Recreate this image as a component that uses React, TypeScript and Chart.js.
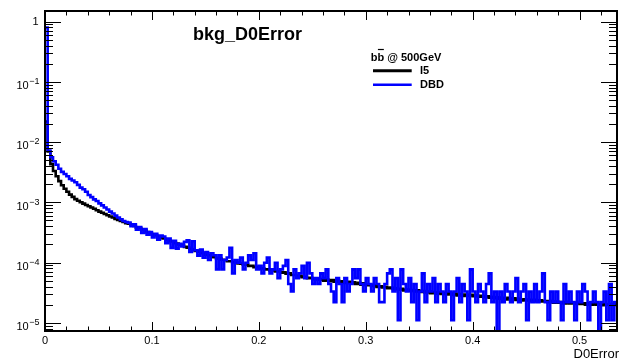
import React, { useEffect, useRef } from 'react';
import { Chart, registerables } from 'chart.js';

Chart.register(...registerables);

// ---- data ----
const BIN_WIDTH = 0.0025;
const X_MIN = 0;
const X_MAX = 0.535;
const Y_MIN = 7.3e-6;
const Y_MAX = 1.5;

const X_TICKS = [0, 0.1, 0.2, 0.3, 0.4, 0.5];
const X_TICK_LABELS = ['0', '0.1', '0.2', '0.3', '0.4', '0.5'];
const Y_TICKS = [1, 1e-1, 1e-2, 1e-3, 1e-4, 1e-5];
const Y_TICK_EXPONENTS = ['', '\u22121', '\u22122', '\u22123', '\u22124', '\u22125'];

const TITLE = 'bkg_D0Error';
const X_TITLE = 'D0Error';
const LEGEND_HEADER = ['b', 'b', ' @ 500GeV'];
const SERIES_NAMES = ['I5', 'DBD'];

const I5 = [
  0.022, 7.0e-3, 4.3e-3, 3.3e-3, 2.7e-3, 2.25e-3, 1.92e-3, 1.68e-3, 1.5e-3, 1.34e-3,
  1.23e-3, 1.13e-3, 1.06e-3, 1.0e-3, 9.5e-4, 9.0e-4, 8.6e-4, 8.2e-4, 7.8e-4, 7.4e-4,
  7.0e-4, 6.7e-4, 6.4e-4, 6.1e-4, 5.8e-4, 5.6e-4, 5.3e-4, 5.1e-4, 4.9e-4, 4.7e-4,
  4.5e-4, 4.4e-4, 4.2e-4, 4.05e-4, 3.8e-4, 3.75e-4, 3.55e-4, 3.4e-4, 3.2e-4, 3.1e-4,
  2.95e-4, 2.85e-4, 2.7e-4, 2.62e-4, 2.5e-4, 2.4e-4, 2.3e-4, 2.24e-4, 2.12e-4, 2.06e-4,
  1.97e-4, 1.92e-4, 1.82e-4, 1.77e-4, 1.68e-4, 1.64e-4, 1.56e-4, 1.52e-4, 1.45e-4, 1.41e-4,
  1.35e-4, 1.32e-4, 1.25e-4, 1.23e-4, 1.17e-4, 1.16e-4, 1.11e-4, 1.1e-4, 1.05e-4, 1.05e-4,
  1.01e-4, 1.0e-4, 9.7e-5, 9.6e-5, 9.2e-5, 9.2e-5, 8.8e-5, 8.8e-5, 8.4e-5, 8.4e-5,
  8.0e-5, 8.0e-5, 7.7e-5, 7.7e-5, 7.4e-5, 7.4e-5, 7.1e-5, 7.1e-5, 6.8e-5, 6.9e-5,
  6.5e-5, 6.6e-5, 6.2e-5, 6.2e-5, 5.9e-5, 6.0e-5, 5.7e-5, 5.8e-5, 5.5e-5, 5.6e-5,
  5.3e-5, 5.4e-5, 5.2e-5, 5.3e-5, 5.0e-5, 5.2e-5, 4.9e-5, 5.1e-5, 4.8e-5, 5.0e-5,
  4.7e-5, 4.9e-5, 4.6e-5, 4.8e-5, 4.5e-5, 4.7e-5, 4.4e-5, 4.6e-5, 4.3e-5, 4.5e-5,
  4.2e-5, 4.3e-5, 4.1e-5, 4.2e-5, 3.95e-5, 4.05e-5, 3.85e-5, 3.95e-5, 3.75e-5, 3.85e-5,
  3.65e-5, 3.75e-5, 3.55e-5, 3.65e-5, 3.45e-5, 3.55e-5, 3.4e-5, 3.5e-5, 3.3e-5, 3.45e-5,
  3.25e-5, 3.35e-5, 3.2e-5, 3.3e-5, 3.1e-5, 3.25e-5, 3.05e-5, 3.2e-5, 3.0e-5, 3.1e-5,
  2.95e-5, 3.1e-5, 2.9e-5, 3.05e-5, 2.85e-5, 3.0e-5, 2.8e-5, 2.95e-5, 2.8e-5, 2.9e-5,
  2.75e-5, 2.85e-5, 2.7e-5, 2.8e-5, 2.65e-5, 2.75e-5, 2.6e-5, 2.7e-5, 2.55e-5, 2.65e-5,
  2.5e-5, 2.6e-5, 2.45e-5, 2.6e-5, 2.45e-5, 2.55e-5, 2.4e-5, 2.5e-5, 2.35e-5, 2.45e-5,
  2.35e-5, 2.4e-5, 2.3e-5, 2.4e-5, 2.25e-5, 2.35e-5, 2.25e-5, 2.3e-5, 2.2e-5, 2.3e-5,
  2.15e-5, 2.25e-5, 2.15e-5, 2.2e-5, 2.1e-5, 2.2e-5, 2.1e-5, 2.15e-5, 2.05e-5, 2.15e-5,
  2.05e-5, 2.1e-5, 2.0e-5, 2.1e-5, 2.0e-5, 2.1e-5, 2.0e-5, 2.05e-5, 1.95e-5, 2.05e-5,
  2.0e-5, 2.05e-5, 1.95e-5, 2.05e-5,
];

const DBD = [
  0.8, 7.2e-3, 5.6e-3, 4.8e-3, 4.2e-3, 3.6e-3, 3.2e-3, 2.95e-3, 2.7e-3, 2.45e-3,
  2.3e-3, 2.15e-3, 1.95e-3, 1.75e-3, 1.65e-3, 1.5e-3, 1.32e-3, 1.22e-3, 1.12e-3, 1.05e-3,
  9.6e-4, 8.9e-4, 8.2e-4, 7.6e-4, 7.0e-4, 6.5e-4, 6.0e-4, 5.6e-4, 5.2e-4, 4.9e-4,
  4.7e-4, 4.6e-4, 4.0e-4, 4.3e-4, 3.5e-4, 3.9e-4, 3.1e-4, 3.6e-4, 2.9e-4, 3.2e-4,
  2.6e-4, 3.0e-4, 2.4e-4, 2.8e-4, 2.7e-4, 2.1e-4, 2.5e-4, 1.75e-4, 2.3e-4, 1.7e-4,
  2.05e-4, 1.85e-4, 2.2e-4, 2.35e-4, 1.5e-4, 2.25e-4, 1.6e-4, 1.3e-4, 1.65e-4, 1.2e-4,
  1.5e-4, 1.1e-4, 1.43e-4, 1.32e-4, 7.7e-5, 1.32e-4, 7.7e-5, 1.1e-4, 1.21e-4, 1.76e-4,
  6.6e-5, 1.1e-4, 9.9e-5, 1.21e-4, 7.7e-5, 9.9e-5, 1.32e-4, 1.1e-4, 1.43e-4, 7.7e-5,
  8.8e-5, 6.6e-5, 9.9e-5, 1.21e-4, 6.6e-5, 7.7e-5, 9.9e-5, 5.5e-5, 7.7e-5, 8.8e-5,
  1.1e-4, 4.4e-5, 3.3e-5, 7.7e-5, 5.5e-5, 6.6e-5, 8.8e-5, 5.5e-5, 9.9e-5, 6.6e-5,
  4.4e-5, 5.5e-5, 4.4e-5, 6.6e-5, 5.5e-5, 7.7e-5, 4.4e-5, 3.3e-5, 2.2e-5, 5.5e-5,
  4.4e-5, 2.2e-5, 5.5e-5, 3.3e-5, 4.4e-5, 7.7e-5, 5.5e-5, 7.7e-5, 4.4e-5, 3.3e-5,
  5.5e-5, 4.4e-5, 3.3e-5, 5.5e-5, 4.4e-5, 2.2e-5, 2.2e-5, 4.4e-5, 6.6e-5, 7.7e-5,
  3.3e-5, 5.5e-5, 1.1e-5, 7.7e-5, 4.4e-5, 3.3e-5, 5.5e-5, 2.2e-5, 4.4e-5, 1.1e-5,
  3.3e-5, 6.6e-5, 2.2e-5, 4.4e-5, 3.3e-5, 5.5e-5, 2.2e-5, 4.4e-5, 3.3e-5, 2.2e-5,
  4.4e-5, 3.3e-5, 1.1e-5, 3.3e-5, 5.5e-5, 2.2e-5, 4.4e-5, 3.3e-5, 1.1e-5, 7.7e-5,
  3.3e-5, 2.2e-5, 4.4e-5, 3.3e-5, 2.2e-5, 4.4e-5, 6.6e-5, 2.2e-5, 3.3e-5, 5e-6,
  3.3e-5, 2.2e-5, 4.4e-5, 3.3e-5, 2.2e-5, 3.3e-5, 5.5e-5, 2.2e-5, 3.3e-5, 4.4e-5,
  1.1e-5, 3.3e-5, 2.2e-5, 4.4e-5, 2.2e-5, 3.3e-5, 6.6e-5, 2.2e-5, 1.1e-5, 3.3e-5,
  2.2e-5, 3.3e-5, 2.2e-5, 1.1e-5, 4.4e-5, 2.2e-5, 3.3e-5, 2.2e-5, 1.1e-5, 3.3e-5,
  2.2e-5, 4.4e-5, 3.3e-5, 1.1e-5, 2.2e-5, 3.3e-5, 2.2e-5, 5e-6, 2.2e-5, 3.3e-5,
  1.1e-5, 4.4e-5, 1.1e-5, 2.2e-5,
];

const FONT = '"Liberation Sans", Arial, Helvetica, sans-serif';
const BLUE = 'rgb(0,0,255)';

function toSteps(vals: number[]) {
  const pts = vals.map((v, i) => ({ x: i * BIN_WIDTH, y: v }));
  pts.push({ x: vals.length * BIN_WIDTH, y: vals[vals.length - 1] });
  return pts;
}

const rootFrame = {
  id: 'rootFrame',
  afterDraw(chart: any) {
    const { ctx, chartArea: a } = chart;
    const xs = chart.scales.x;
    const ys = chart.scales.y;
    ctx.save();
    ctx.strokeStyle = '#000';
    ctx.lineWidth = 1;
    ctx.beginPath();
    // x ticks (bottom and top)
    for (let k = 0; k <= 30; k++) {
      const v = k * 0.02;
      if (v > X_MAX + 1e-9) break;
      const px = Math.round(xs.getPixelForValue(v)) + 0.5;
      const len = k % 5 === 0 ? 9 : 4.5;
      ctx.moveTo(px, a.bottom);
      ctx.lineTo(px, a.bottom - len);
      ctx.moveTo(px, a.top);
      ctx.lineTo(px, a.top + len);
    }
    // y ticks (left and right)
    for (let e = -6; e <= 0; e++) {
      for (let m = 1; m <= 9; m++) {
        const v = m * Math.pow(10, e);
        if (v < Y_MIN || v > Y_MAX) continue;
        const py = Math.round(ys.getPixelForValue(v)) + 0.5;
        const len = m === 1 ? 16 : 8;
        ctx.moveTo(a.left, py);
        ctx.lineTo(a.left + len, py);
        ctx.moveTo(a.right, py);
        ctx.lineTo(a.right - len, py);
      }
    }
    ctx.stroke();
    // frame
    ctx.lineWidth = 2;
    ctx.strokeRect(a.left, a.top, a.right - a.left, a.bottom - a.top);

    // x tick labels
    ctx.fillStyle = '#000';
    ctx.font = `11px ${FONT}`;
    ctx.textAlign = 'center';
    ctx.textBaseline = 'alphabetic';
    X_TICKS.forEach((v, i) => {
      ctx.fillText(X_TICK_LABELS[i], xs.getPixelForValue(v), a.bottom + 12.5);
    });
    // y tick labels
    const rightEdge = 39.5;
    Y_TICKS.forEach((v, i) => {
      const py = ys.getPixelForValue(v);
      const ex = Y_TICK_EXPONENTS[i];
      if (!ex) {
        ctx.font = `11px ${FONT}`;
        ctx.textAlign = 'right';
        ctx.fillText('1', rightEdge - 1, py + 3.8);
      } else {
        ctx.font = `9px ${FONT}`;
        const we = ctx.measureText(ex).width;
        ctx.textAlign = 'left';
        ctx.fillText(ex, rightEdge - we, py + 2.2);
        ctx.font = `11px ${FONT}`;
        ctx.textAlign = 'right';
        ctx.fillText('10', rightEdge - we - 0.5, py + 7.2);
      }
    });
    // x axis title
    ctx.font = `13px ${FONT}`;
    ctx.textAlign = 'right';
    ctx.fillText(X_TITLE, 619, 358);

    // title
    ctx.font = `bold 18px ${FONT}`;
    ctx.textAlign = 'left';
    ctx.fillText(TITLE, 193, 39.5);

    // legend
    ctx.font = `bold 11px ${FONT}`;
    let lx = 370.7;
    const hb = 60.7;
    ctx.fillText(LEGEND_HEADER[0], lx, hb);
    lx += ctx.measureText(LEGEND_HEADER[0]).width;
    const wb = ctx.measureText(LEGEND_HEADER[1]).width;
    ctx.fillText(LEGEND_HEADER[1], lx, hb);
    ctx.lineWidth = 1.2;
    ctx.beginPath();
    ctx.moveTo(lx + 0.5, 49.5);
    ctx.lineTo(lx + wb - 0.3, 49.5);
    ctx.stroke();
    lx += wb;
    ctx.fillText(LEGEND_HEADER[2], lx, hb);

    ctx.lineWidth = 3;
    ctx.strokeStyle = '#000';
    ctx.beginPath();
    ctx.moveTo(373, 70.7);
    ctx.lineTo(411.7, 70.7);
    ctx.stroke();
    ctx.lineWidth = 2.5;
    ctx.strokeStyle = BLUE;
    ctx.beginPath();
    ctx.moveTo(373, 84.7);
    ctx.lineTo(411.7, 84.7);
    ctx.stroke();
    ctx.fillStyle = '#000';
    ctx.fillText(SERIES_NAMES[0], 420, 74.2);
    ctx.fillText(SERIES_NAMES[1], 420, 88.2);
    ctx.restore();
  },
};

export default function App() {
  const ref = useRef<HTMLCanvasElement>(null);
  useEffect(() => {
    if (!ref.current) return;
    const chart = new Chart(ref.current, {
      type: 'line',
      data: {
        datasets: [
          {
            label: SERIES_NAMES[1],
            data: toSteps(DBD),
            borderColor: BLUE,
            borderWidth: 2.6,
            stepped: 'before',
            pointRadius: 0,
            fill: false,
            order: 0,
          },
          {
            label: SERIES_NAMES[0],
            data: toSteps(I5),
            borderColor: '#000',
            borderWidth: 2.6,
            stepped: 'before',
            pointRadius: 0,
            fill: false,
            order: 1,
          },
        ],
      },
      options: {
        responsive: false,
        animation: false,
        devicePixelRatio: 1,
        layout: { padding: { top: 11, right: 2, left: 0, bottom: 0 } },
        plugins: { legend: { display: false }, tooltip: { enabled: false }, title: { display: false } },
        scales: {
          x: {
            type: 'linear',
            min: X_MIN,
            max: X_MAX,
            ticks: { display: false },
            grid: { display: false },
            border: { display: false },
            afterFit: (s: any) => { s.height = 30; },
          },
          y: {
            type: 'logarithmic',
            min: Y_MIN,
            max: Y_MAX,
            ticks: { display: false },
            grid: { display: false },
            border: { display: false },
            afterFit: (s: any) => { s.width = 45; },
          },
        },
      },
      plugins: [rootFrame],
    } as any);
    return () => chart.destroy();
  }, []);
  return (
    <div style={{ position: 'absolute', left: 0, top: 0, width: 619, height: 361, background: '#fff' }}>
      <canvas ref={ref} width={619} height={361} style={{ display: 'block', width: 619, height: 361 }} />
    </div>
  );
}
